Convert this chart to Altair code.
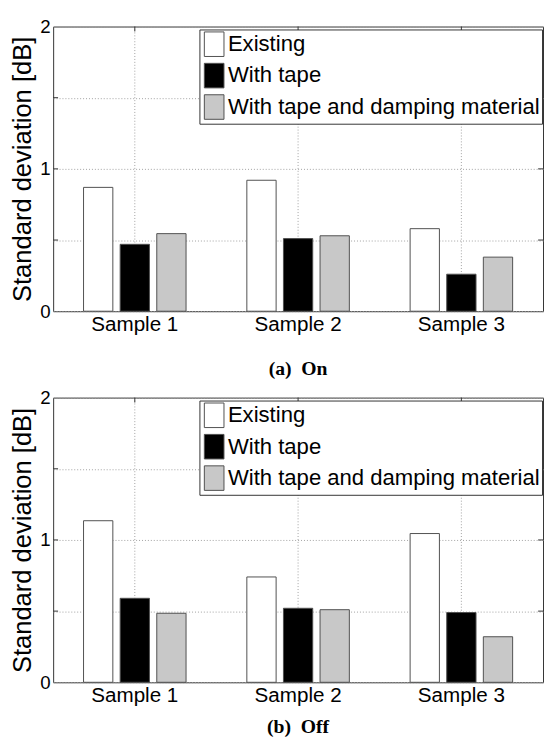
import altair as alt
import pandas as pd

samples = ["Sample 1", "Sample 2", "Sample 3"]
series = ["Existing", "With tape", "With tape and damping material"]
colors = ["white", "black", "#c8c8c8"]

on_existing = [0.87, 0.92, 0.58]
on_tape = [0.47, 0.51, 0.26]
on_damp = [0.545, 0.53, 0.38]

off_existing = [1.135, 0.74, 1.045]
off_tape = [0.59, 0.52, 0.49]
off_damp = [0.485, 0.51, 0.32]

y_ticks = [0, 0.5, 1, 1.5, 2]
inner_ticks = [0.5, 1, 1.5]

W, H = 499, 290
SANS = "Liberation Sans"
SERIF = "Liberation Serif"
FRAME = "#333333"
YTITLE = "Standard deviation [dB]"


def make_df(ex, tp, dm):
    rows = []
    for i, s in enumerate(samples):
        for name, vals in zip(series, [ex, tp, dm]):
            rows.append({"sample": s, "series": name, "value": vals[i]})
    return pd.DataFrame(rows)


xscale = alt.Scale(domain=samples, paddingInner=0, paddingOuter=0)
yscale = alt.Scale(domain=[0, 2], nice=False)
yaxis = alt.Axis(values=y_ticks,
                 labelExpr="datum.value % 1 === 0 ? format(datum.value, 'd') : ''",
                 grid=True, gridDash=[1, 2], gridColor="#a0a0a0", gridWidth=1,
                 tickSize=0, domain=False, labelFontSize=19, labelPadding=3,
                 titleFontSize=26, titleFontWeight="normal", titlePadding=5)


def panel(df, caption, offset):
    X = alt.X("sample:N", scale=xscale, sort=samples,
              axis=alt.Axis(labelAngle=0, title=None, tickSize=0, domain=False,
                            labelFontSize=21, labelPadding=3, grid=False))
    sdf = pd.DataFrame({"sample": samples})
    tdf = pd.DataFrame({"value": inner_ticks})

    xgrid = alt.Chart(sdf).mark_rule(strokeDash=[1, 2], color="#a0a0a0", strokeWidth=1).encode(x=X)

    Y = alt.Y("value:Q", scale=yscale, title=YTITLE, axis=yaxis)

    bars = alt.Chart(df).mark_bar(stroke="#505050", strokeWidth=1).encode(
        x=X,
        xOffset=alt.XOffset("series:N", sort=series,
                            scale=alt.Scale(domain=series, paddingInner=0.2, paddingOuter=0.83)),
        y=Y,
        fill=alt.Fill("series:N", sort=series,
                      scale=alt.Scale(domain=series, range=colors),
                      legend=alt.Legend(title=None, orient="none", legendX=149, legendY=3,
                                        symbolType="M-0.8,-1H0.8V1H-0.8Z", symbolSize=625,
                                        symbolStrokeColor="#505050", symbolStrokeWidth=1,
                                        labelFontSize=22.5, labelFont=SANS, labelLimit=0,
                                        labelColor="black",
                                        fillColor="white", strokeColor=FRAME, padding=2,
                                        rowPadding=2, labelOffset=1)),
    )

    lticks = alt.Chart(tdf).mark_rule(color=FRAME).encode(y=Y, x=alt.value(0), x2=alt.value(5))
    rticks = alt.Chart(tdf).mark_rule(color=FRAME).encode(y=Y, x=alt.value(W - 5), x2=alt.value(W))
    tticks = alt.Chart(sdf).mark_rule(color=FRAME).encode(x=X, y=alt.value(0), y2=alt.value(5))

    return alt.layer(xgrid, bars, lticks, rticks, tticks).properties(
        width=W, height=H,
        title=alt.TitleParams(caption, orient="bottom", font=SERIF, fontSize=20,
                              fontWeight="bold", anchor="middle", offset=offset, color="black"),
    )


top = panel(make_df(on_existing, on_tape, on_damp), "(a)\u00a0\u00a0On", 25)
bottom = panel(make_df(off_existing, off_tape, off_damp), "(b)\u00a0\u00a0Off", 12)

chart = alt.vconcat(top, bottom, spacing=8).resolve_scale(fill="independent").resolve_legend(
    fill="independent"
).properties(
    padding={"left": 0, "top": 2, "right": 0, "bottom": 0}
).configure_view(stroke=FRAME, strokeWidth=1).configure_axis(
    labelColor="black", titleColor="black", labelFont=SANS, titleFont=SANS
)

chart.save("out.html", embed_options={"renderer": "svg", "actions": False})
